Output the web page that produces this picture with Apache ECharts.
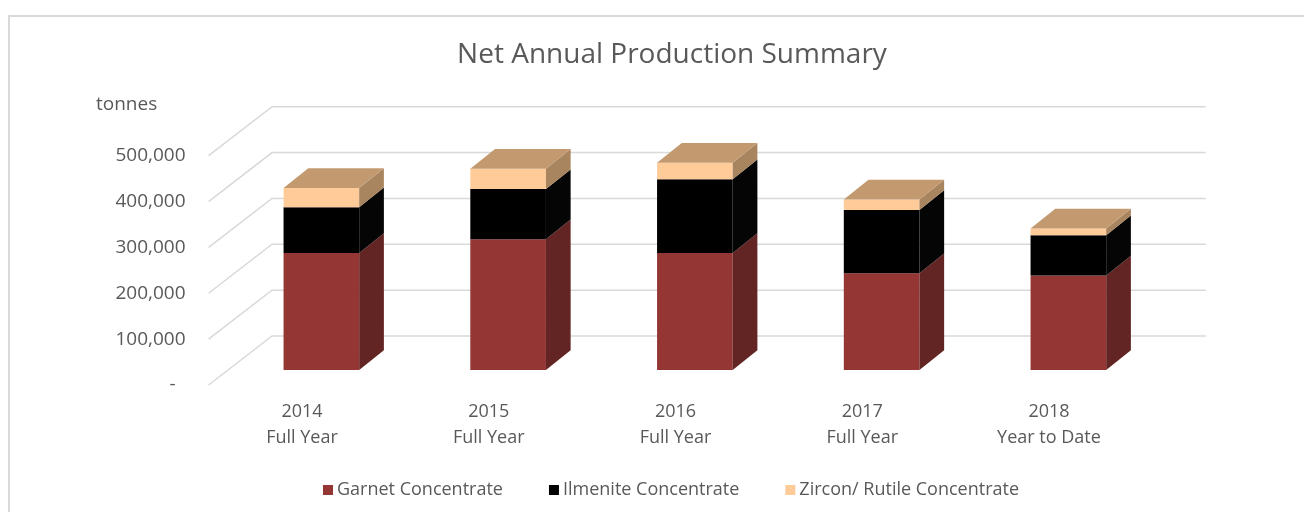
<!DOCTYPE html>
<html>
<head>
<meta charset="utf-8">
<title>Net Annual Production Summary</title>
<script src="https://cdn.jsdelivr.net/npm/echarts@6/dist/echarts.min.js"></script>
<style>
  html, body { margin: 0; padding: 0; background: #fff; }
  #chart { width: 1304px; height: 512px; }
</style>
</head>
<body>
<div id="chart"></div>
<script>
// data (tonnes)
var categories = ['2014\nFull Year', '2015\nFull Year', '2016\nFull Year', '2017\nFull Year', '2018\nYear to Date'];
var garnet = [255000, 285000, 255000, 211000, 206000];
var ilmenite = [100000, 109500, 161000, 138000, 88000];
var zircon = [42000, 44500, 36000, 23000, 14500];
var wallTicks = [0, 100000, 200000, 300000, 400000, 500000];

var textColor = '#595959';
var font = 'Open Sans';

// pseudo 3d offsets in pixels
var wallDx = 63.4, wallDy = -49;     // floor front -> back wall
var frontDx = 19.4, frontDy = -15;   // floor front -> bar front face
var depthDx = 24.7, depthDy = -19.7; // bar front face -> bar back face
var barRatio = 0.405;

var myChart = echarts.init(document.getElementById('chart'));

// stack bases and tops
function layer(values, bases) {
    return values.map(function (v, i) { return [i, bases[i], bases[i] + v]; });
}
var zero = garnet.map(function () { return 0; });
var garnetData = layer(garnet, zero);
var ilmData = layer(ilmenite, garnet);
var zirBase = garnet.map(function (g, i) { return g + ilmenite[i]; });
var zirData = layer(zircon, zirBase);

function barRenderer(front, side, top) {
    return function (params, api) {
        var i = api.value(0);
        var lo = api.coord([i, api.value(1)]);
        var hi = api.coord([i, api.value(2)]);
        var bw = api.size([1, 0])[0] * barRatio;
        var xl = lo[0] + frontDx - bw / 2;
        var xr = lo[0] + frontDx + bw / 2;
        var yb = lo[1] + frontDy;
        var yt = hi[1] + frontDy;
        var children = [
            {
                type: 'rect',
                shape: { x: xl, y: yt, width: bw, height: yb - yt },
                style: { fill: front }
            },
            {
                type: 'polygon',
                shape: { points: [[xr, yt], [xr + depthDx, yt + depthDy], [xr + depthDx, yb + depthDy], [xr, yb]] },
                style: { fill: side }
            }
        ];
        if (top) {
            children.push({
                type: 'polygon',
                shape: { points: [[xl, yt], [xr, yt], [xr + depthDx, yt + depthDy], [xl + depthDx, yt + depthDy]] },
                style: { fill: top }
            });
        }
        return { type: 'group', children: children };
    };
}

var option = {
    backgroundColor: '#fff',
    animation: false,
    title: {
        text: 'Net Annual Production Summary',
        left: 667,
        top: 36,
        textAlign: 'center',
        textStyle: { fontFamily: font, fontSize: 28, fontWeight: 'normal', color: textColor }
    },
    graphic: [
        // chart frame
        {
            type: 'polyline',
            shape: { points: [[9, 512], [9, 16], [1304, 16]] },
            style: { stroke: '#d9d9d9', lineWidth: 2, fill: null }
        },
        {
            type: 'text',
            left: 96,
            top: 95,
            style: { text: 'tonnes', fontFamily: font, fontSize: 19, fill: textColor }
        }
    ],
    legend: {
        data: ['Garnet Concentrate', 'Ilmenite Concentrate', 'Zircon/ Rutile Concentrate'],
        left: 318,
        top: 476,
        icon: 'rect',
        itemWidth: 10,
        itemHeight: 10,
        itemGap: 46,
        textStyle: { fontFamily: font, fontSize: 18, color: textColor, padding: [0, 0, 0, -1] }
    },
    grid: {
        left: 208.6,
        width: 933.75,
        top: 155.7,
        height: 229.3
    },
    xAxis: {
        type: 'category',
        data: categories,
        axisLine: { show: false },
        axisTick: { show: false },
        axisLabel: {
            fontFamily: font,
            fontSize: 18,
            lineHeight: 26,
            color: textColor,
            margin: 14
        }
    },
    yAxis: {
        type: 'value',
        min: 0,
        max: 500000,
        interval: 100000,
        axisLine: { show: false },
        axisTick: { show: false },
        splitLine: { show: false },
        axisLabel: {
            fontFamily: font,
            fontSize: 19,
            color: textColor,
            margin: 23,
            formatter: function (v) {
                return v === 0 ? '-  ' : v.toLocaleString('en-US');
            }
        }
    },
    series: [
        {
            name: 'walls',
            type: 'custom',
            silent: true,
            z: 1,
            data: wallTicks.map(function (v) { return [0, v]; }),
            encode: { x: 0, y: 1 },
            renderItem: function (params, api) {
                var cs = params.coordSys;
                var p = api.coord([0, api.value(1)]);
                return {
                    type: 'polyline',
                    shape: { points: [[cs.x, p[1]], [cs.x + wallDx, p[1] + wallDy], [cs.x + cs.width + wallDx, p[1] + wallDy]] },
                    style: { stroke: '#d9d9d9', lineWidth: 1.5, fill: null }
                };
            }
        },
        {
            name: 'Garnet Concentrate',
            type: 'custom',
            z: 2,
            itemStyle: { color: '#943634' },
            data: garnetData,
            encode: { x: 0, y: 2 },
            renderItem: barRenderer('#943634', '#632523', null)
        },
        {
            name: 'Ilmenite Concentrate',
            type: 'custom',
            z: 2,
            itemStyle: { color: '#000000' },
            data: ilmData,
            encode: { x: 0, y: 2 },
            renderItem: barRenderer('#000000', '#050505', null)
        },
        {
            name: 'Zircon/ Rutile Concentrate',
            type: 'custom',
            z: 2,
            itemStyle: { color: '#FFCC99' },
            data: zirData,
            encode: { x: 0, y: 2 },
            renderItem: barRenderer('#FFCC99', '#A8845F', '#C39A70')
        }
    ]
};

myChart.setOption(option);
</script>
</body>
</html>
